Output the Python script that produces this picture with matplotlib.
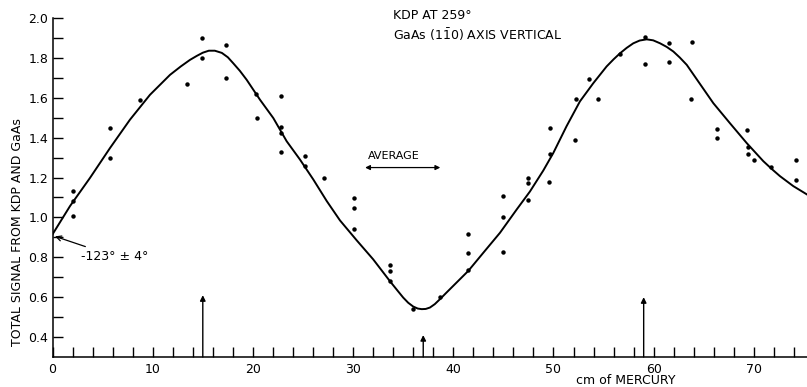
import matplotlib.pyplot as plt
from matplotlib.ticker import FixedLocator, FuncFormatter

# measured points (cm of mercury, total signal)
pt_x = [2.0, 2.0, 2.0, 5.74, 5.74, 8.73, 13.45, 14.95, 14.95, 17.35, 17.3,
        20.3, 20.4, 22.77, 22.77, 22.8, 22.77, 25.2, 25.2, 27.1,
        30.1, 30.1, 30.1, 33.68, 33.68, 33.68, 36.0, 38.67,
        41.5, 41.5, 41.5, 45.0, 45.0, 45.0, 47.5, 47.5, 47.5,
        49.55, 49.65, 49.7, 52.1, 52.25, 53.57, 54.4, 56.64,
        59.13, 59.13, 61.5, 61.5, 63.8, 63.7, 66.35, 66.35,
        69.28, 69.4, 69.4, 70.0, 71.7, 74.2, 74.2]
pt_y = [1.13, 1.08, 1.005, 1.447, 1.30, 1.59, 1.67, 1.90, 1.80, 1.865, 1.70,
        1.62, 1.50, 1.61, 1.453, 1.423, 1.33, 1.307, 1.257, 1.20,
        1.097, 1.045, 0.94, 0.763, 0.73, 0.68, 0.54, 0.60,
        0.915, 0.82, 0.735, 1.108, 1.003, 0.827, 1.20, 1.175, 1.087,
        1.18, 1.32, 1.45, 1.39, 1.595, 1.695, 1.595, 1.82,
        1.903, 1.77, 1.877, 1.78, 1.88, 1.593, 1.445, 1.40,
        1.44, 1.355, 1.32, 1.29, 1.255, 1.288, 1.187]

# fitted curve
fit_x = [0.0, 1.75, 3.74, 5.74, 7.73, 9.73, 11.73, 12.8, 13.72, 14.4, 15.0,
         15.6, 16.2, 16.9, 17.5, 18.04, 18.7, 19.38, 20.71, 22.04, 23.37,
         24.7, 26.03, 27.37, 28.69, 30.36, 32.0, 33.68, 34.4, 35.0, 35.5,
         36.0, 36.45, 36.85, 37.25, 37.67, 38.15, 38.67, 39.3, 40.0, 41.5,
         43.0, 44.66, 46.33, 47.65, 48.98, 49.98, 51.3, 52.64, 53.97, 55.3,
         56.0, 56.64, 57.3, 57.96, 58.6, 59.3, 59.95, 60.64, 61.3, 61.96,
         62.6, 63.3, 64.5, 65.95, 67.6, 69.28, 70.94, 71.8, 72.6, 73.93, 75.3]
fit_y = [0.915, 1.057, 1.198, 1.348, 1.49, 1.615, 1.715, 1.757, 1.79, 1.81, 1.826,
         1.836, 1.836, 1.825, 1.803, 1.773, 1.735, 1.69, 1.59, 1.498, 1.382,
         1.29, 1.19, 1.082, 0.985, 0.885, 0.79, 0.68, 0.635, 0.598, 0.572,
         0.553, 0.543, 0.54, 0.541, 0.548, 0.565, 0.59, 0.622, 0.657, 0.732,
         0.823, 0.923, 1.04, 1.13, 1.235, 1.323, 1.457, 1.582, 1.673, 1.757,
         1.793, 1.823, 1.85, 1.873, 1.887, 1.893, 1.888, 1.873, 1.855, 1.832,
         1.802, 1.765, 1.678, 1.573, 1.473, 1.373, 1.282, 1.242, 1.207, 1.157,
         1.115]

# vertical marker arrows on the x axis
arrow_x = [15.0, 37.0, 59.0]
arrow_top = [0.61, 0.41, 0.60]

y_ticks = [round(0.4 + 0.1 * i, 1) for i in range(17)]
x_ticks = list(range(0, 76, 2))

fig = plt.figure(figsize=(8.07, 3.87), dpi=100)
ax = fig.add_axes([52.5 / 807, 30 / 387, 1 - 52.5 / 807, 339 / 387])

ax.plot(fit_x, fit_y, color="black", lw=1.4)
ax.plot(pt_x, pt_y, "o", color="black", ms=3.2, mec="none")

for x, top in zip(arrow_x, arrow_top):
    ax.annotate("", xy=(x, top), xytext=(x, 0.3),
                arrowprops=dict(arrowstyle="-|>", color="black", lw=1,
                                mutation_scale=8, shrinkA=0, shrinkB=0))

ax.set_xlim(0, 75.3)
ax.set_ylim(0.3, 2.0)
for s in ["top", "right"]:
    ax.spines[s].set_visible(False)
for s in ["left", "bottom"]:
    ax.spines[s].set_linewidth(1.1)

ax.yaxis.set_major_locator(FixedLocator(y_ticks))
ax.yaxis.set_major_formatter(FuncFormatter(
    lambda v, p: f"{v:.1f}" if round(v * 10) % 2 == 0 else ""))
ax.xaxis.set_major_locator(FixedLocator(x_ticks))
ax.xaxis.set_major_formatter(FuncFormatter(
    lambda v, p: f"{int(v)}" if int(round(v)) % 10 == 0 else ""))
ax.tick_params(direction="in", length=7, width=1, labelsize=9)
ax.tick_params(axis="y", pad=3)
ax.tick_params(axis="x", pad=4)

ax.text(33.98, 2.015, "KDP AT 259°", fontsize=9, va="center", clip_on=False)
ax.text(33.98, 1.915, r"GaAs (1$\bar{1}$0) AXIS VERTICAL", fontsize=9,
        va="center", clip_on=False)

ax.text(34.1, 1.31, "AVERAGE", fontsize=8, ha="center", va="center")
ax.annotate("", xy=(31.2, 1.25), xytext=(38.7, 1.25),
            arrowprops=dict(arrowstyle="<|-|>", color="black", lw=0.9,
                            mutation_scale=7, shrinkA=0, shrinkB=0))

ax.annotate("-123° ± 4°", xy=(0.25, 0.905), xytext=(2.8, 0.805),
            fontsize=9, va="center",
            arrowprops=dict(arrowstyle="->", color="black", lw=0.9,
                            shrinkA=1, shrinkB=0))

fig.text(18 / 807, 1 - 232 / 387, "TOTAL SIGNAL FROM KDP AND GaAs",
         rotation=90, fontsize=9, ha="center", va="center")
fig.text(626 / 807, 1 - 381 / 387, "cm of MERCURY", fontsize=9,
         ha="center", va="center")

fig.savefig("out.png", dpi=100)
